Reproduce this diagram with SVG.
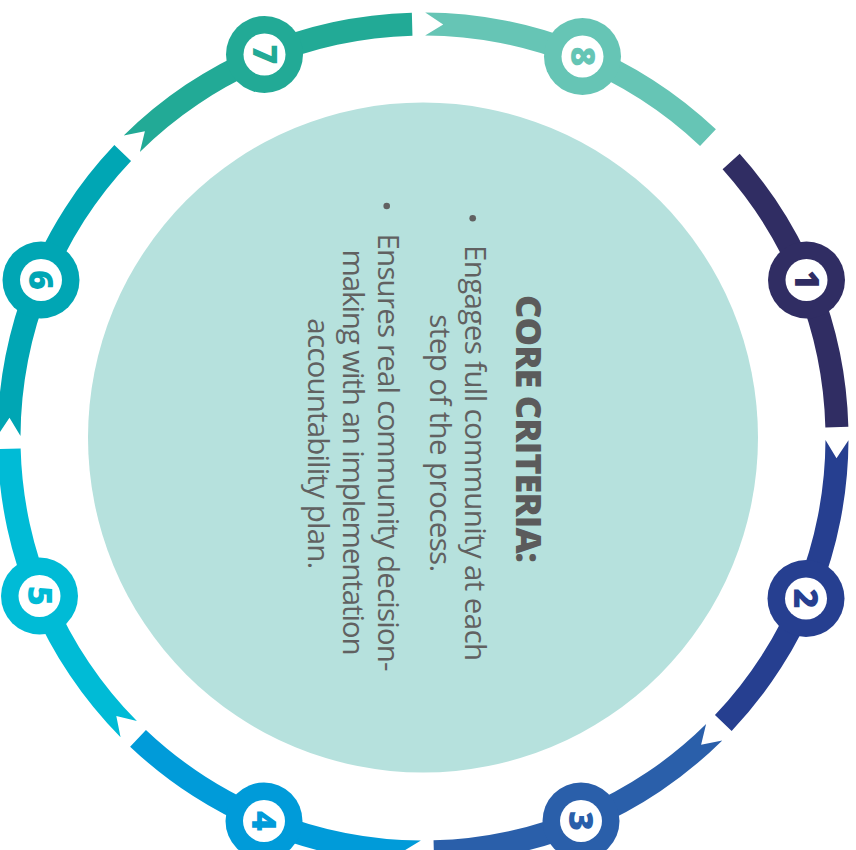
<svg xmlns="http://www.w3.org/2000/svg" xmlns:xlink="http://www.w3.org/1999/xlink" width="856" height="850" viewBox="0 0 856 850">
  <style>
    .title { font-family: "Open Sans", "Liberation Sans", sans-serif; font-weight: 800; font-size: 36px; fill: #5b5b5b; }
    .body { font-family: "Open Sans", "Liberation Sans", sans-serif; font-weight: 400; font-size: 29.5px; fill: #616161; }
    .num { font-family: "Open Sans", "Liberation Sans", sans-serif; font-weight: 800; font-size: 34px; }
    .hole { fill: #ffffff; }
  </style>
  <defs>
    <path id="seg" d="M848.49,440.23 A425.5,425.5 0 0 1 731.65,730.89 L714.96,715.06 A402.5,402.5 0 0 0 825.49,440.11 L836.51,458.22 Z"/>
    <path id="segFlat" d="M847.88,461.01 A425.5,425.5 0 0 1 731.65,730.89 L714.96,715.06 A402.5,402.5 0 0 0 824.91,459.77 Z"/>
  </defs>
  <rect width="856" height="850" fill="#ffffff"/>

  <g id="center">
    <circle cx="423" cy="437.5" r="335" fill="#b6e1dd"/>
    <text class="title" text-anchor="middle" transform="translate(516,429) rotate(90)" textLength="268" lengthAdjust="spacing">CORE CRITERIA:</text>
    <circle cx="472.7" cy="218.3" r="3.3" fill="#616161"/>
    <text class="body" text-anchor="middle" transform="translate(465,453) rotate(90)" textLength="416" lengthAdjust="spacing">Engages full community at each</text>
    <text class="body" text-anchor="middle" transform="translate(430,443.3) rotate(90)" textLength="258" lengthAdjust="spacing">step of the process.</text>
    <circle cx="386.7" cy="206" r="3.3" fill="#616161"/>
    <text class="body" text-anchor="middle" transform="translate(378,452.5) rotate(90)" textLength="438" lengthAdjust="spacing">Ensures real community decision-</text>
    <text class="body" text-anchor="middle" transform="translate(343,452.5) rotate(90)" textLength="406" lengthAdjust="spacing">making with an implementation</text>
    <text class="body" text-anchor="middle" transform="translate(308,443.8) rotate(90)" textLength="251" lengthAdjust="spacing">accountability plan.</text>
  </g>

  <g id="connectors">
    <use xlink:href="#segFlat" href="#segFlat" fill="#302d63" transform="rotate(315,423,438)"/>
    <use xlink:href="#seg" href="#seg" fill="#263f90" transform="rotate(0,423,438)"/>
    <use xlink:href="#seg" href="#seg" fill="#2a5faa" transform="rotate(45,423,438)"/>
    <use xlink:href="#seg" href="#seg" fill="#009bd9" transform="rotate(90,423,438)"/>
    <use xlink:href="#seg" href="#seg" fill="#00bbd6" transform="rotate(135,423,438)"/>
    <use xlink:href="#seg" href="#seg" fill="#00a6b4" transform="rotate(180,423,438)"/>
    <use xlink:href="#seg" href="#seg" fill="#22aa96" transform="rotate(225,423,438)"/>
    <use xlink:href="#seg" href="#seg" fill="#66c5b5" transform="rotate(270,423,438)"/>
  </g>

  <g id="step1" transform="translate(806.5,280)">
    <circle r="38.5" fill="#302d63"/><circle r="21" class="hole"/>
    <text class="num" fill="#302d63" text-anchor="middle" transform="rotate(90)" y="12">1</text>
  </g>
  <g id="step2" transform="translate(806,598.5)">
    <circle r="38.5" fill="#263f90"/><circle r="21" class="hole"/>
    <text class="num" fill="#263f90" text-anchor="middle" transform="rotate(90)" y="12">2</text>
  </g>
  <g id="step3" transform="translate(581,821)">
    <circle r="38.5" fill="#2a5faa"/><circle r="21" class="hole"/>
    <text class="num" fill="#2a5faa" text-anchor="middle" transform="rotate(90)" y="12">3</text>
  </g>
  <g id="step4" transform="translate(264,821)">
    <circle r="38.5" fill="#009bd9"/><circle r="21" class="hole"/>
    <text class="num" fill="#009bd9" text-anchor="middle" transform="rotate(90)" y="12">4</text>
  </g>
  <g id="step5" transform="translate(39.5,596)">
    <circle r="38.5" fill="#00bbd6"/><circle r="21" class="hole"/>
    <text class="num" fill="#00bbd6" text-anchor="middle" transform="rotate(90)" y="12">5</text>
  </g>
  <g id="step6" transform="translate(41,280)">
    <circle r="38.5" fill="#00a6b4"/><circle r="21" class="hole"/>
    <text class="num" fill="#00a6b4" text-anchor="middle" transform="rotate(90)" y="12">6</text>
  </g>
  <g id="step7" transform="translate(264.5,54.5)">
    <circle r="38.5" fill="#22aa96"/><circle r="21" class="hole"/>
    <text class="num" fill="#22aa96" text-anchor="middle" transform="rotate(90)" y="12">7</text>
  </g>
  <g id="step8" transform="translate(582.5,56.5)">
    <circle r="38.5" fill="#66c5b5"/><circle r="21" class="hole"/>
    <text class="num" fill="#66c5b5" text-anchor="middle" transform="rotate(90)" y="12">8</text>
  </g>
</svg>
